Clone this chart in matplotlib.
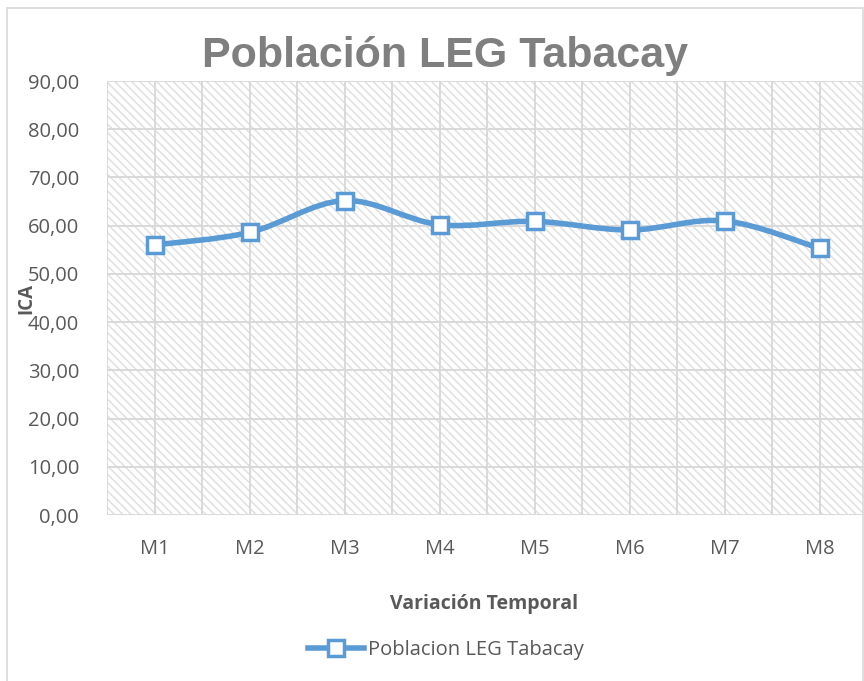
import numpy as np
import matplotlib
matplotlib.use('Agg')
import matplotlib.pyplot as plt
from matplotlib.path import Path
from matplotlib.patches import PathPatch, Rectangle
from matplotlib.lines import Line2D

# ============ 数据 ============
categories = ['M1', 'M2', 'M3', 'M4', 'M5', 'M6', 'M7', 'M8']
ica_values = [56.0, 58.6, 65.2, 60.2, 60.9, 59.1, 61.0, 55.3]
y_ticks = [0, 10, 20, 30, 40, 50, 60, 70, 80, 90]
y_tick_labels = [f'{v:.2f}'.replace('.', ',') for v in y_ticks]

title_text = 'Población LEG Tabacay'
series_name = 'Poblacion LEG Tabacay'
x_label = 'Variación Temporal'
y_label = 'ICA'

# ============ 样式 ============
line_color = '#5b9bd5'
text_color = '#595959'
grid_color = '#d9d9d9'
tick_font = 'Open Sans'
plt.rcParams['hatch.linewidth'] = 1.1
plt.rcParams['hatch.color'] = '#e0e0e0'

fig = plt.figure(figsize=(8.64, 6.81), dpi=100)
fig.patch.set_facecolor('white')

# 外框
fig.add_artist(Rectangle((7 / 864, -0.01), 856 / 864, 1 - 8 / 681 + 0.01,
                         transform=fig.transFigure, fill=False,
                         edgecolor='#d9d9d9', linewidth=1.2))

ax = fig.add_axes([107 / 864, 1 - 515 / 681, 760 / 864, (515 - 81) / 681])
ax.set_facecolor('white')

# 斜线背景
ax.add_patch(Rectangle((0, 0), 1, 1, transform=ax.transAxes, fill=False,
                       hatch='\\\\\\\\', edgecolor='#e0e0e0', linewidth=0, zorder=0))

x = np.arange(len(categories))
ax.set_xlim(-0.5, len(categories) - 0.5)
ax.set_ylim(0, 90)

# 网格 (类别中心与边界都有竖线)
for xv in np.arange(-0.5, len(categories), 0.5):
    ax.axvline(xv, color=grid_color, linewidth=1.4, zorder=1)
for yv in y_ticks:
    ax.axhline(yv, color=grid_color, linewidth=1.4, zorder=1)

# 平滑曲线 (Excel 风格贝塞尔)
pts = np.column_stack([x, ica_values]).astype(float)
verts = [tuple(pts[0])]
codes = [Path.MOVETO]
n = len(pts)
for i in range(n - 1):
    p0 = pts[i - 1] if i > 0 else pts[i]
    p1 = pts[i]
    p2 = pts[i + 1]
    p3 = pts[i + 2] if i + 2 < n else pts[i + 1]
    c1 = p1 + (p2 - p0) / 6.0
    c2 = p2 - (p3 - p1) / 6.0
    verts += [tuple(c1), tuple(c2), tuple(p2)]
    codes += [Path.CURVE4] * 3
ax.add_patch(PathPatch(Path(verts, codes), fill=False, edgecolor=line_color,
                       linewidth=4, capstyle='round', joinstyle='round', zorder=3))
ax.plot(x, ica_values, linestyle='none', marker='s', markersize=12,
        markerfacecolor='white', markeredgecolor=line_color,
        markeredgewidth=2.5, zorder=4)

for s in ax.spines.values():
    s.set_visible(False)

ax.set_xticks(x)
ax.set_xticklabels(categories, fontsize=14.5, color=text_color, family=tick_font)
ax.set_yticks(y_ticks)
ax.set_yticklabels(y_tick_labels, fontsize=14.5, color=text_color, family=tick_font)
ax.tick_params(axis='both', length=0)
ax.tick_params(axis='x', pad=17)
ax.tick_params(axis='y', pad=20)

fig.text(445 / 864, 1 - 56 / 681, title_text, ha='center', va='center',
         fontsize=31, fontweight='bold', color='#7f7f7f', family='Liberation Sans')
fig.text(484 / 864, 1 - 604 / 681, x_label, ha='center', va='center',
         fontsize=14, fontweight='bold', color=text_color, family=tick_font)
fig.text(26 / 864, 1 - 298 / 681, y_label, ha='center', va='center', rotation=90,
         fontsize=13.5, fontweight='bold', color=text_color, family=tick_font)

handle = Line2D([], [], color=line_color, linewidth=4, marker='s', markersize=12,
                markerfacecolor='white', markeredgecolor=line_color, markeredgewidth=2.5)
fig.legend([handle], [series_name], loc='center', bbox_to_anchor=(446 / 864, 1 - 650 / 681),
           frameon=False, prop={'family': tick_font, 'size': 14.5},
           labelcolor=text_color, handlelength=2.8, handletextpad=0.2)

fig.savefig('out.png', dpi=100, facecolor='white')
